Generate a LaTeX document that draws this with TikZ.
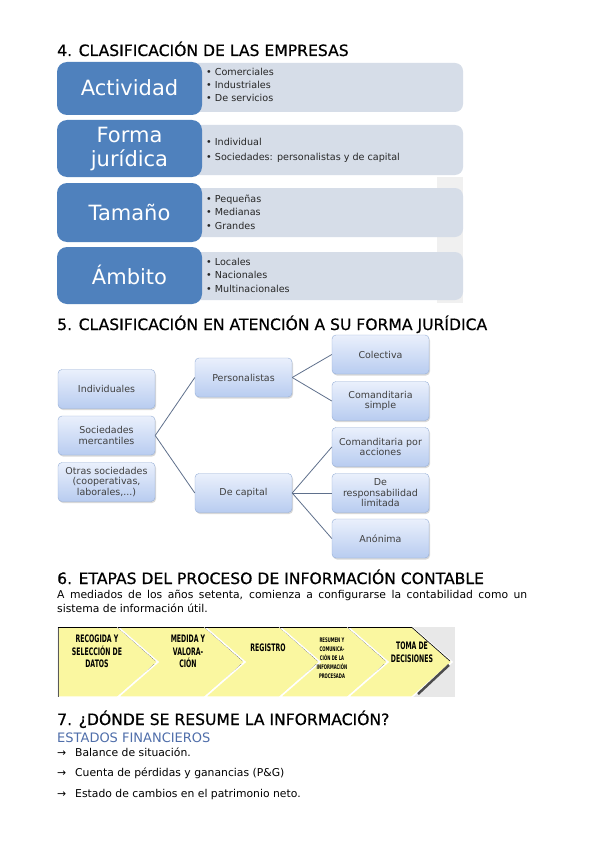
\documentclass[tikz,border=0pt]{standalone}
\usepackage{fontspec}
\setmainfont{DejaVu Sans}
\newfontfamily\titlefont{DejaVu Sans}[FakeBold=0.6]
\newfontfamily\chevfont{DejaVu Sans}[FakeStretch=0.6]
\usetikzlibrary{shadows}

\definecolor{bloqazul}{RGB}{79,129,189}
\definecolor{bloqgris}{RGB}{214,221,232}
\definecolor{cajaarriba}{RGB}{234,240,252}
\definecolor{cajaabajo}{RGB}{184,204,240}
\definecolor{cajaborde}{RGB}{150,175,215}
\definecolor{enlace}{RGB}{95,112,140}
\definecolor{amarillo}{RGB}{250,247,160}
\definecolor{azultexto}{RGB}{79,110,170}

\begin{document}
\begin{tikzpicture}[x=1pt,y=-1pt,
    titulo/.style={anchor=base west, inner sep=0, font=\titlefont\fontsize{15.6}{18}\selectfont},
    texto/.style={anchor=base west, inner sep=0, font=\fontsize{10.8}{13}\selectfont},
    etiqueta/.style={text=white, align=center, font=\fontsize{21}{24}\selectfont},
    vineta/.style={anchor=base west, inner sep=0, text=black!85, font=\fontsize{9.6}{11}\selectfont},
    caja/.style={draw=cajaborde, rounded corners=4pt, top color=cajaarriba, bottom color=cajaabajo,
      minimum width=97pt, minimum height=39pt, inner sep=2pt, align=center, text=black!75,
      font=\fontsize{9.5}{10.5}\selectfont,
      drop shadow={shadow xshift=1pt, shadow yshift=-1.5pt, opacity=0.3}},
    enlaza/.style={draw=enlace, line width=0.8pt},
    etapa/.style={align=center, inner sep=0, font=\chevfont\bfseries\fontsize{10.3}{12.5}\selectfont}]
  \useasboundingbox (0,0) rectangle (599,848);
  \fill[white] (0,0) rectangle (599,848);

  % 4. clasificacion de las empresas
  \node[titulo] (titulo4) at (57,56) {4. CLASIFICACIÓN DE LAS EMPRESAS};
  \fill[black!6] (437,177) rectangle (463,303);
  \fill[bloqgris, rounded corners=8pt] (190,63) rectangle (463,112);
  \fill[bloqgris, rounded corners=8pt] (190,125) rectangle (463,175);
  \fill[bloqgris, rounded corners=8pt] (190,188) rectangle (463,237);
  \fill[bloqgris, rounded corners=8pt] (190,252) rectangle (463,300);
  \fill[bloqazul, rounded corners=10pt] (57,62) rectangle (202,115);
  \fill[bloqazul, rounded corners=10pt] (57,120) rectangle (202,177);
  \fill[bloqazul, rounded corners=10pt] (57,183) rectangle (202,242);
  \fill[bloqazul, rounded corners=10pt] (57,247) rectangle (202,304);
  \node[etiqueta] (actividad) at (129.5,88) {Actividad};
  \node[etiqueta] (forma) at (129.5,149) {Forma\\jurídica};
  \node[etiqueta] (tamano) at (129.5,212) {Tamaño};
  \node[etiqueta] (ambito) at (129.5,275) {Ámbito};
  \node[vineta] (comerciales) at (206,76) {• Comerciales};
  \node[vineta] (industriales) at (206,89) {• Industriales};
  \node[vineta] (servicios) at (206,102) {• De servicios};
  \node[vineta] (individual) at (206,146) {• Individual};
  \node[vineta] (sociedades) at (206,160) {• Sociedades: personalistas y de capital};
  \node[vineta] (pequenas) at (206,202) {• Pequeñas};
  \node[vineta] (medianas) at (206,215) {• Medianas};
  \node[vineta] (grandes) at (206,229) {• Grandes};
  \node[vineta] (locales) at (206,265) {• Locales};
  \node[vineta] (nacionales) at (206,278) {• Nacionales};
  \node[vineta] (multinacionales) at (206,292) {• Multinacionales};

  % 5. forma juridica
  \node[titulo] (titulo5) at (57,330) {5. CLASIFICACIÓN EN ATENCIÓN A SU FORMA JURÍDICA};
  \node[caja] (individuales) at (106.5,389) {Individuales};
  \node[caja] (mercantiles) at (106.5,435.5) {Sociedades\\mercantiles};
  \node[caja] (otras) at (106.5,482) {Otras sociedades\\(cooperativas,\\laborales,...)};
  \node[caja] (personalistas) at (243.5,377.5) {Personalistas};
  \node[caja] (decapital) at (243.5,493) {De capital};
  \node[caja] (colectiva) at (380.5,354.5) {Colectiva};
  \node[caja] (simple) at (380.5,401) {Comanditaria\\simple};
  \node[caja] (acciones) at (380.5,447) {Comanditaria por\\acciones};
  \node[caja] (limitada) at (380.5,493) {De\\responsabilidad\\limitada};
  \node[caja] (anonima) at (380.5,538.5) {Anónima};
  \draw[enlaza] (mercantiles.east) -- (personalistas.west);
  \draw[enlaza] (mercantiles.east) -- (decapital.west);
  \draw[enlaza] (personalistas.east) -- (colectiva.west);
  \draw[enlaza] (personalistas.east) -- (simple.west);
  \draw[enlaza] (decapital.east) -- (acciones.west);
  \draw[enlaza] (decapital.east) -- (limitada.west);
  \draw[enlaza] (decapital.east) -- (anonima.west);

  % 6. etapas del proceso
  \node[titulo] (titulo6) at (57,584) {6. ETAPAS DEL PROCESO DE INFORMACIÓN CONTABLE};
  \node[texto] (parrafo1) at (57,598) {\makebox[470pt][s]{A mediados de los años setenta, comienza a configurarse la contabilidad como un}};
  \node[texto] (parrafo2) at (57,612) {sistema de información útil.};
  \fill[black!9] (57,627) rectangle (455,697);
  \foreach \a/\b/\n in {58/118/0, 118/205/40, 205/280/40, 280/348/40, 348/412/40} {
    \filldraw[fill=amarillo, draw=white, line width=1.5pt]
      (\a,627) -- (\b,627) -- (\b+40,662) -- (\b,697) -- (\a,697) -- (\a+\n,662) -- cycle;
    \draw[black, line width=0.6pt] (\a,627.5) -- (\b,627.5) -- (\b+38,661);
    \draw[black!70, line width=2.5pt] (\b+37,665) -- (\b+6,694);
  }
  \draw[black!65, line width=1.5pt] (58.5,628) -- (58.5,697);
  \node[etapa] (recogida) at (97,651.5) {RECOGIDA Y\\SELECCIÓN DE\\DATOS};
  \node[etapa] (medida) at (188,651.5) {MEDIDA Y\\VALORA-\\CIÓN};
  \node[etapa] (registro) at (268,648) {REGISTRO};
  \node[etapa, font=\chevfont\bfseries\fontsize{6.3}{9}\selectfont] (resumen) at (332,658) {RESUMEN Y\\COMUNICA-\\CIÓN DE LA\\INFORMACIÓN\\PROCESADA};
  \node[etapa] (toma) at (412,652) {TOMA DE\\DECISIONES};

  % 7. donde se resume
  \node[titulo] (titulo7) at (57,725) {7. ¿DÓNDE SE RESUME LA INFORMACIÓN?};
  \node[texto, text=azultexto, font=\fontsize{13}{15}\selectfont] (estados) at (57,742) {ESTADOS FINANCIEROS};
  \node[texto] (flecha1) at (57,756) {→};
  \node[texto] (balance) at (75,756) {Balance de situación.};
  \node[texto] (flecha2) at (57,776) {→};
  \node[texto] (cuenta) at (75,776) {Cuenta de pérdidas y ganancias (P\&G)};
  \node[texto] (flecha3) at (57,797) {→};
  \node[texto] (cambios) at (75,797) {Estado de cambios en el patrimonio neto.};
\end{tikzpicture}
\end{document}
